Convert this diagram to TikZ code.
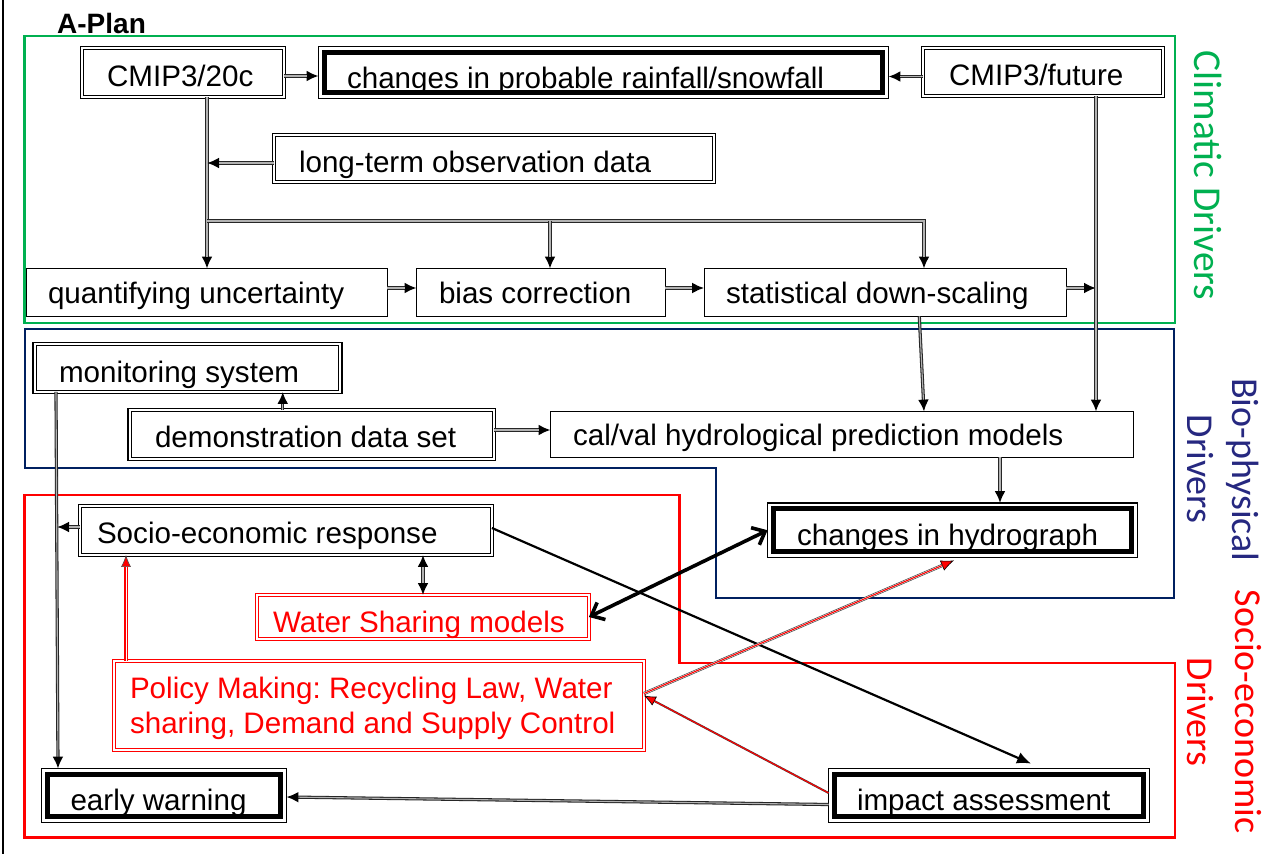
\documentclass[tikz,border=0pt]{standalone}
\usepackage{fontspec}
\setmainfont{Liberation Sans}
\newfontfamily\lblfont{Carlito}
\usetikzlibrary{arrows.meta}
\definecolor{cgreen}{RGB}{0,176,80}
\definecolor{cnavy}{RGB}{0,32,96}
\definecolor{ctxtnavy}{RGB}{38,40,128}
\newcommand\boxtxt[3]{\makebox[#1pt][l]{\hspace*{#2pt}#3}}
\frenchspacing
\begin{document}
\begin{tikzpicture}[x=1pt,y=-1pt,
  box/.style={draw, line width=1.3pt, inner sep=0pt, outer sep=0pt,
    font=\fontsize{29.6}{35}\selectfont, text depth=0pt},
  dbl/.style={box, line width=1.2pt, double, double distance=2pt},
  dblred/.style={dbl, draw=red, text=red},
  frame/.style={line width=2.8pt},
  sidelbl/.style={rotate=-90, anchor=base, inner sep=0pt},
  gconn/.style={draw=black!85, line width=3.2pt,
    -{Latex[length=12pt,width=11pt,color=black]},
    postaction={draw=black!30, line width=1.1pt, shorten >=12pt, -}},
  gconnboth/.style={draw=black!85, line width=3.2pt,
    {Latex[length=12pt,width=11pt,color=black]}-{Latex[length=12pt,width=11pt,color=black]},
    postaction={draw=black!30, line width=1.1pt, shorten >=12pt, shorten <=12pt, -}},
  thickarr/.style={draw=black, line width=3.6pt,
    {Straight Barb[length=11pt,width=19pt]}-{Straight Barb[length=11pt,width=19pt]}},
  blkarr/.style={draw=black, line width=2.2pt, -{Latex[length=14pt,width=12pt]}},
  rtriple/.style={draw=black!80, line width=3.2pt,
    -{Latex[length=13pt,width=11pt,fill=red,color=black,line width=0.6pt]},
    postaction={draw=white, line width=2pt, shorten >=13pt, -},
    postaction={draw=red, line width=1.1pt, shorten >=13pt, -}},
  rline/.style={draw=black!75, line width=2pt,
    -{Latex[length=12pt,width=10pt,fill=red,color=black,line width=0.6pt]},
    postaction={draw=red, line width=1.1pt, shorten >=12pt, -}},
  rdouble/.style={draw=red, line width=3.4pt,
    -{Latex[length=12pt,width=10pt,fill=red,color=black!70,line width=0.6pt]},
    postaction={draw=white, line width=1pt, shorten >=12pt, -}}
]
\useasboundingbox (0,0) rectangle (1267,854);
\fill[white] (0,0) rectangle (1267,854);

% page edge line
\draw[line width=1.5pt] (3,0) -- (3,854);

% title
\node[anchor=base west, inner sep=0pt, font=\bfseries\fontsize{28}{32}\selectfont] (title) at (57,33) {A-Plan};

% group frames
\draw[frame, draw=cgreen] (24.5,36) rectangle (1175,323);
\draw[frame, draw=cnavy] (25,329) -- (1174,329) -- (1174,598) -- (716,598) -- (716,468) -- (25,468) -- cycle;
\draw[frame, draw=red] (24.5,495) -- (679.5,495) -- (679.5,663) -- (1175,663) -- (1175,837.5) -- (24.5,837.5) -- cycle;

% side labels
\node[sidelbl, text=cgreen, font=\lblfont\fontsize{39.5}{46}\selectfont] (lclim) at (1194,175.5) {Climatic Drivers};
\node[sidelbl, text=ctxtnavy, font=\lblfont\fontsize{38}{46}\selectfont] (lbio) at (1232,470) {Bio-physical};
\node[sidelbl, text=ctxtnavy, font=\lblfont\fontsize{38}{46}\selectfont] (lbiod) at (1187,469) {Drivers};
\node[sidelbl, text=red, font=\lblfont\fontsize{38}{46}\selectfont] (lsoc) at (1235,711.5) {Socio-economic};
\node[sidelbl, text=red, font=\lblfont\fontsize{38}{46}\selectfont] (lsocd) at (1187,712) {Drivers};

% boxes
\node[dbl, minimum width=201.8pt, minimum height=48.8pt, text height=28pt] (cmip20) at (183,72.5)
  {\boxtxt{201.8}{24.9}{CMIP3/20c}};
\node[box, minimum width=569.8pt, minimum height=51.8pt, text height=31pt] (chg) at (603.5,72.5)
  {\boxtxt{569.8}{28.4}{changes in probable rainfall/snowfall}};
\node[dbl, minimum width=239.8pt, minimum height=47.8pt, text height=27pt] (cmipf) at (1043,72)
  {\boxtxt{239.8}{25.9}{CMIP3/future}};
\node[dbl, minimum width=439.8pt, minimum height=46.8pt, text height=27pt] (lt) at (494,158.5)
  {\boxtxt{439.8}{24.9}{long-term observation data}};
\node[box, minimum width=360.8pt, minimum height=47.8pt, text height=21pt] (quant) at (207,292.5)
  {\boxtxt{360.8}{21.4}{quantifying uncertainty}};
\node[box, minimum width=248.8pt, minimum height=47.8pt, text height=21pt] (bias) at (541,292.5)
  {\boxtxt{248.8}{22.4}{bias correction}};
\node[box, minimum width=362.2pt, minimum height=47.8pt, text height=21pt] (stat) at (885.3,292.5)
  {\boxtxt{362.2}{21.8}{statistical down-scaling}};
\node[dbl, minimum width=305.8pt, minimum height=47.8pt, text height=28pt] (mon) at (187.5,368)
  {\boxtxt{305.8}{24.4}{monitoring system}};
\node[dbl, minimum width=364.3pt, minimum height=48.8pt, text height=25pt] (demo) at (311.75,434.5)
  {\boxtxt{364.3}{25.4}{demonstration data set}};
\node[box, minimum width=582.8pt, minimum height=45.8pt, text height=22pt] (calval) at (842,434.5)
  {\boxtxt{582.8}{22.4}{cal/val hydrological prediction models}};
\node[box, minimum width=369.8pt, minimum height=54.3pt, text height=29.5pt] (hydro) at (952.5,530.25)
  {\boxtxt{369.8}{29.4}{changes in hydrograph}};
\node[dbl, minimum width=411.8pt, minimum height=48.8pt, text height=25pt] (socio) at (286,530.5)
  {\boxtxt{411.8}{16.9}{Socio-economic response}};
\node[dblred, minimum width=331.8pt, minimum height=43.8pt, text height=30pt] (water) at (423,617)
  {\boxtxt{331.8}{15.9}{Water Sharing models}};
\node[dblred, minimum width=530.2pt, minimum height=88.8pt, text height=20pt, text depth=35pt] (policy) at (378.8,705.5)
  {\boxtxt{530.2}{16.3}{\begin{tabular}[t]{@{}l@{}}Policy Making: Recycling Law, Water\\sharing, Demand and Supply Control\end{tabular}}};
\node[box, minimum width=244.8pt, minimum height=53.8pt, text height=29pt] (early) at (164,795.5)
  {\boxtxt{244.8}{28.9}{early warning}};
\node[box, minimum width=320.8pt, minimum height=53.8pt, text height=29pt] (impact) at (989,795.5)
  {\boxtxt{320.8}{28.4}{impact assessment}};

% thick inner borders of the emphasised boxes
\foreach \n in {chg,hydro,early,impact}
  \draw[line width=5pt] ([shift={(5.8,5.8)}]\n.north west) rectangle ([shift={(-5.8,-5.8)}]\n.south east);

% junction points on connector lines
\coordinate (jL) at (207,163);
\coordinate (jB1) at (207,221);
\coordinate (jB2) at (550,221);
\coordinate (jS) at (1096,288);
\coordinate (jM) at (57,527);

% connectors
\draw[gconn] ([yshift=-3.5pt]cmip20.east) -- ([yshift=-3.5pt]chg.west);
\draw[gconn] ([yshift=-4.5pt]cmipf.west) -- ([yshift=-4.5pt]cmipf.west -| chg.east);
\draw[gconn] ([xshift=24pt]cmip20.south) -- (quant.north);
\draw[gconn] (lt.west |- jL) -- (jL);
\draw[gconn] (jB1) -| ([xshift=38.7pt]stat.north);
\draw[gconn] (jB2) -- (jB2 |- bias.north);
\draw[gconn] ([yshift=4.5pt]quant.east) -- ([yshift=4.5pt]bias.west);
\draw[gconn] ([yshift=4.5pt]bias.east) -- ([yshift=4.5pt]stat.west);
\draw[gconn] ([yshift=4.5pt]stat.east) -- (jS);
\draw[gconn] ([xshift=53pt]cmipf.south) -- ([xshift=254pt]calval.north);
\draw[gconn] ([xshift=34pt]stat.south) -- ([xshift=82pt]calval.north);
\draw[gconn] ([yshift=4.5pt]demo.east) -- ([yshift=4.5pt]calval.west);
\draw[gconn] ([xshift=-29pt]demo.north) -- ([xshift=-29pt]demo.north |- mon.south);
\draw[gconn] ([xshift=-131.5pt]mon.south) -- ([xshift=-106pt]early.north);
\draw[gconn] ([yshift=3.5pt]socio.west) -- (jM);
\draw[gconn] ([xshift=158pt]calval.south) -- ([xshift=47.5pt]hydro.north);
\draw[gconnboth] (socio.south -| water.north) -- (water.north);
\draw[thickarr] (water.east) -- (hydro.west);
\draw[blkarr] ([yshift=2.5pt]socio.east) -- ([xshift=42pt,yshift=5pt]impact.north);
\draw[rtriple] ([yshift=12pt]policy.east) -- ([xshift=1.5pt,yshift=-3pt]hydro.south);
\draw[rline] ([yshift=2.5pt]impact.west) -- ([yshift=10pt]policy.east);
\draw[gconn] ([yshift=-9pt]impact.west) -- ([yshift=-1.5pt]early.east);
\draw[rdouble] ([xshift=-252.8pt]policy.north) -- ([xshift=-252.8pt]policy.north |- socio.south);
\end{tikzpicture}
\end{document}
